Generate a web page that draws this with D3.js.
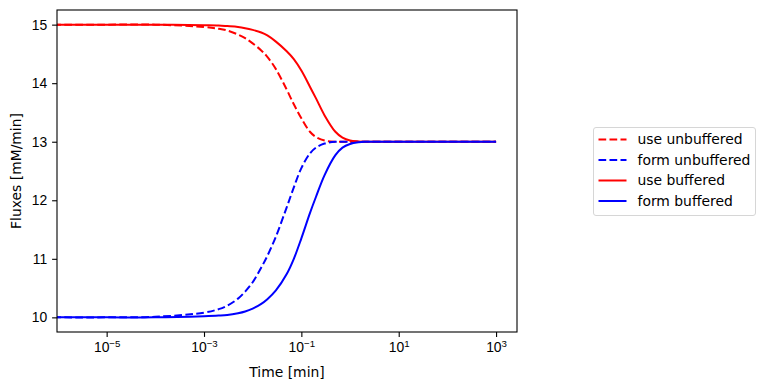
<!DOCTYPE html>
<html>
<head>
<meta charset="utf-8">
<script src="https://cdn.jsdelivr.net/npm/d3@7"></script>
<style>
  body { margin: 0; background: #fff; }
  svg { font-family: "DejaVu Sans", sans-serif; }
  .axis text { font-size: 13.9px; fill: #000; }
  .axis path, .axis line { stroke: #000; stroke-width: 1.1; }
</style>
</head>
<body>
<svg width="765" height="390"></svg>
<script>
var svg = d3.select('svg');

// time points [min] and fluxes [mM/min]
var times = [1e-7, 1e-6, 1e-5, 1e-4, 1e-3, 2e-3, 3e-3, 5e-3, 7e-3, 1e-2, 1.5e-2, 2e-2, 3e-2, 5e-2, 7e-2, 0.1, 0.15, 0.2, 0.3, 0.5, 0.7, 1, 1.5, 2, 5, 10, 100, 1000];
var useUnbuffered  = [15, 15, 15, 15, 14.96, 14.93, 14.9, 14.83, 14.77, 14.68, 14.56, 14.45, 14.24, 13.89, 13.64, 13.4, 13.17, 13.08, 13.02, 13.0, 13, 13, 13, 13, 13, 13, 13, 13];
var formUnbuffered = [10, 10, 10, 10.01, 10.08, 10.14, 10.2, 10.32, 10.44, 10.6, 10.85, 11.05, 11.38, 11.88, 12.22, 12.55, 12.8, 12.9, 12.97, 13.0, 13, 13, 13, 13, 13, 13, 13, 13];
var useBuffered    = [15, 15, 15, 15, 14.99, 14.985, 14.975, 14.96, 14.94, 14.91, 14.865, 14.815, 14.71, 14.545, 14.41, 14.215, 13.94, 13.74, 13.45, 13.17, 13.07, 13.02, 13.005, 13.0, 13, 13, 13, 13];
var formBuffered   = [10, 10, 10, 10, 10.02, 10.03, 10.04, 10.07, 10.1, 10.15, 10.23, 10.31, 10.46, 10.74, 11.0, 11.35, 11.78, 12.06, 12.43, 12.77, 12.9, 12.96, 12.99, 13.0, 13, 13, 13, 13];

var seriesNames = ['use unbuffered', 'form unbuffered', 'use buffered', 'form buffered'];
var seriesValues = [useUnbuffered, formUnbuffered, useBuffered, formBuffered];
var seriesColors = ['#ff0000', '#0000ff', '#ff0000', '#0000ff'];
var seriesDashed = [true, true, false, false];

var xTicks = [1e-5, 1e-3, 1e-1, 1e1, 1e3];
var yTicks = [10, 11, 12, 13, 14, 15];

var plot = {l: 57, r: 517, t: 10, b: 332};
var dash = '7.7,3.3';

var xScale = d3.scaleLog()
    .domain([Math.pow(10, -6.02), Math.pow(10, 3.43)])
    .range([plot.l, plot.r]);

var yScale = d3.scaleLinear()
    .domain([9.75, 15.25])
    .range([plot.b, plot.t]);

svg.append('clipPath')
    .attr('id', 'clip')
    .append('rect')
    .attr('x', plot.l)
    .attr('y', plot.t)
    .attr('width', plot.r - plot.l)
    .attr('height', plot.b - plot.t);

var line = d3.line()
    .x(function(d) { return xScale(d.t); })
    .y(function(d) { return yScale(d.v); })
    .curve(d3.curveCatmullRom.alpha(0.5));

var series = seriesNames.map(function(name, i) {
    return {
        name: name,
        color: seriesColors[i],
        dashed: seriesDashed[i],
        points: times.map(function(t, j) { return {t: t, v: seriesValues[i][j]}; })
    };
});

svg.append('g')
    .attr('clip-path', 'url(#clip)')
    .selectAll('.line-plot')
    .data(series)
    .enter()
    .append('path')
    .attr('class', 'line-plot')
    .attr('d', function(d) { return line(d.points); })
    .style('fill', 'none')
    .style('stroke', function(d) { return d.color; })
    .style('stroke-width', 2)
    .style('stroke-dasharray', function(d) { return d.dashed ? dash : null; });

// axes
var xAxis = d3.axisBottom(xScale)
    .tickValues(xTicks)
    .tickSize(4.9)
    .tickPadding(5)
    .tickFormat(function(d) { return ''; });

var gx = svg.append('g')
    .attr('class', 'x axis')
    .attr('transform', 'translate(0,' + plot.b + ')')
    .call(xAxis);
gx.select('.domain').remove();

gx.selectAll('.tick text')
    .each(function(d) {
        var e = Math.round(Math.log10(d));
        var t = d3.select(this);
        t.append('tspan').text('10');
        t.append('tspan')
            .attr('dy', '-0.45em')
            .style('font-size', '9.7px')
            .text(e < 0 ? '\u2212' + (-e) : String(e));
    });

var yAxis = d3.axisLeft(yScale)
    .tickValues(yTicks)
    .tickSize(4.9)
    .tickPadding(5)
    .tickFormat(d3.format('d'));

var gy = svg.append('g')
    .attr('class', 'y axis')
    .attr('transform', 'translate(' + plot.l + ',0)')
    .call(yAxis);
gy.select('.domain').remove();

svg.append('rect')
    .attr('x', plot.l)
    .attr('y', plot.t)
    .attr('width', plot.r - plot.l)
    .attr('height', plot.b - plot.t)
    .style('fill', 'none')
    .style('stroke', '#000')
    .style('stroke-width', 1.1);

svg.append('text')
    .attr('x', (plot.l + plot.r) / 2)
    .attr('y', 377)
    .attr('text-anchor', 'middle')
    .style('font-size', '13.9px')
    .text('Time [min]');

svg.append('text')
    .attr('transform', 'translate(21,' + ((plot.t + plot.b) / 2) + ') rotate(-90)')
    .attr('text-anchor', 'middle')
    .style('font-size', '13.9px')
    .text('Fluxes [mM/min]');

// legend
var legend = svg.append('g')
    .attr('transform', 'translate(593.5,127.5)');

legend.append('rect')
    .attr('width', 162)
    .attr('height', 88)
    .attr('rx', 2.5)
    .style('fill', '#fff')
    .style('fill-opacity', 0.8)
    .style('stroke', '#d6d6d6')
    .style('stroke-width', 1);

var item = legend.selectAll('.legend-item')
    .data(series)
    .enter()
    .append('g')
    .attr('class', 'legend-item')
    .attr('transform', function(d, i) { return 'translate(0,' + (12 + i * 20.5) + ')'; });

item.append('line')
    .attr('x1', 5)
    .attr('x2', 33)
    .style('stroke', function(d) { return d.color; })
    .style('stroke-width', 2)
    .style('stroke-dasharray', function(d) { return d.dashed ? dash : null; });

item.append('text')
    .attr('x', 44)
    .attr('dy', '0.35em')
    .style('font-size', '13.9px')
    .text(function(d) { return d.name; });
</script>
</body>
</html>
